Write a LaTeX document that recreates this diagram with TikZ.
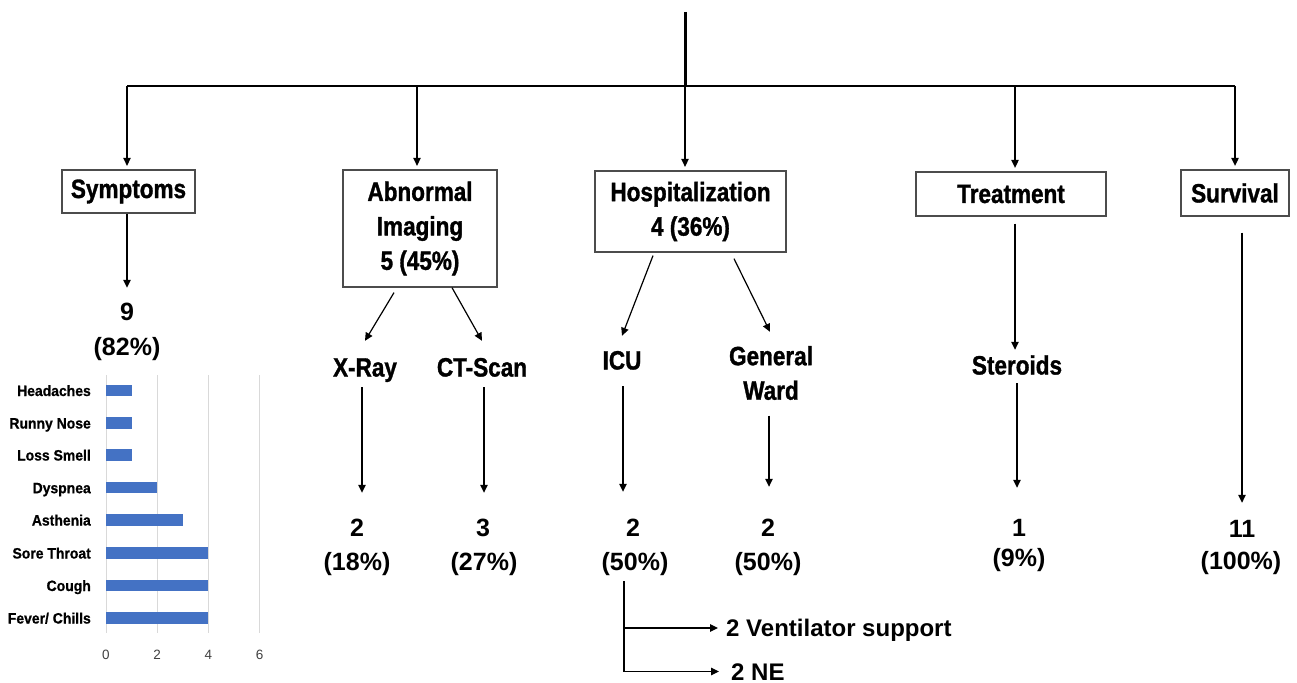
\documentclass[tikz,border=0pt]{standalone}
\usepackage{fontspec}
\setmainfont{Liberation Sans}
\newfontfamily\cnd[FakeStretch=0.85, BoldFeatures={FakeBold=1.2}]{Liberation Sans}
\newfontfamily\cndb[FakeStretch=0.93, BoldFeatures={FakeBold=0.8}]{Liberation Sans}
\usetikzlibrary{arrows.meta}
\definecolor{barblue}{HTML}{4472C4}
\begin{document}
\begin{tikzpicture}[x=1pt,y=-1pt,
  lbl/.style={font=\cnd\bfseries\fontsize{26.5}{34.5}\selectfont, align=center, inner sep=0pt},
  lblt/.style={lbl, text height=19pt, text depth=0pt},
  boxn/.style={lbl, draw=black!70, line width=1.3pt},
  val/.style={font=\bfseries\fontsize{25}{30}\selectfont, inner sep=0pt, text height=18pt, text depth=0pt},
  side/.style={font=\bfseries\fontsize{24}{30}\selectfont, inner sep=0pt, text height=17pt, text depth=0pt, anchor=west},
  arr/.style={-{Triangle[length=8pt,width=7.5pt]}, line width=1.2pt},
  ln/.style={line width=1.2pt},
  clbl/.style={font=\cndb\bfseries\fontsize{15}{15}\selectfont, inner sep=0pt, text height=11pt, text depth=0pt, anchor=east},
  tick/.style={font=\fontsize{13.5}{13.5}\selectfont, text=black!75, inner sep=0pt, text height=10pt, text depth=0pt},
  grid/.style={draw=black!15, line width=1pt},
  bar/.style={fill=barblue}]
\useasboundingbox (0,0) rectangle (1297,682);

% bus
\coordinate (top) at (685,12);
\coordinate (hub) at (685,86);
\coordinate (b1) at (127,86);
\coordinate (b2) at (417,86);
\coordinate (b4) at (1015,86);
\coordinate (b5) at (1235,86);
\draw[line width=3pt] (top) -- (hub);
\draw[line width=2pt] (b1) -- (b5);

% top-level boxes
\node[boxn, minimum width=133pt, minimum height=43pt] (sym) at (128.5,191.5) {Symptoms};
\node[boxn, minimum width=154pt, minimum height=117pt] (ab) at (420,228.5) {Abnormal\\Imaging\\5 (45\%)};
\node[boxn, minimum width=191pt, minimum height=81pt] (hosp) at (690.5,211.5) {Hospitalization\\4 (36\%)};
\node[boxn, minimum width=190pt, minimum height=44pt] (treat) at (1011,194) {Treatment};
\node[boxn, minimum width=108pt, minimum height=46pt] (surv) at (1235,193) {Survival};

\draw[arr, shorten >=3.5pt] (b1) -- (b1 |- sym.north);
\draw[arr, shorten >=3.5pt] (b2) -- (b2 |- ab.north);
\draw[arr, shorten >=3.5pt] (hub) -- (hub |- hosp.north);
\draw[arr, shorten >=3.5pt] (b4) -- (b4 |- treat.north);
\draw[arr, shorten >=3.5pt] (b5) -- (b5 |- surv.north);

% second level labels
\node[lblt] (xray) at (365,367) {X-Ray};
\node[lblt] (ct) at (482,367) {CT-Scan};
\node[lblt] (icu) at (622,360) {ICU};
\node[lbl] (gw) at (771,373) {General\\Ward};
\node[lblt] (ster) at (1017,365) {Steroids};

% values
\node[val] (v9) at (127,311) {9};
\node[val] (p82) at (127,346) {(82\%)};
\node[val] (vx) at (357,527) {2};
\node[val] (px) at (357,561) {(18\%)};
\node[val] (vc) at (483,527) {3};
\node[val] (pc) at (484,561) {(27\%)};
\node[val] (vi) at (633,527) {2};
\node[val] (pi) at (635,561) {(50\%)};
\node[val] (vg) at (768,527) {2};
\node[val] (pg) at (768,561) {(50\%)};
\node[val] (vs) at (1019,527) {1};
\node[val] (ps) at (1019,557) {(9\%)};
\node[val] (vsu) at (1242,528) {11};
\node[val] (psu) at (1241,560) {(100\%)};

% connectors
\draw[arr, shorten >=14pt] (sym.south -| v9) -- (v9.north);
\draw[arr] ([xshift=-26pt,yshift=-5pt]ab.south) -- ([yshift=16.5pt]xray.north);
\draw[arr] ([xshift=32pt]ab.south) -- ([yshift=16.5pt]ct.north);
\draw[arr, shorten <=10.5pt, shorten >=25pt] ([xshift=-3pt]xray.south) -- ([xshift=-3pt]xray.south |- vx.north);
\draw[arr, shorten <=10.5pt, shorten >=25pt] ([xshift=2pt]ct.south) -- ([xshift=2pt]ct.south |- vc.north);
\draw[arr] ([xshift=-37.5pt,yshift=-3pt]hosp.south) -- ([yshift=14.5pt]icu.north);
\draw[arr] ([xshift=43.5pt,yshift=-6pt]hosp.south) -- ([xshift=-1pt,yshift=14pt]gw.north);
\draw[arr, shorten <=16.5pt, shorten >=26pt] ([xshift=1pt]icu.south) -- ([xshift=1pt]icu.south |- vi.north);
\draw[arr, shorten <=15.5pt, shorten >=31pt] ([xshift=-2pt]gw.south) -- ([xshift=-2pt]gw.south |- vg.north);
\draw[arr, shorten <=7pt, shorten >=5.5pt] (treat.south -| b4) -- (b4 |- ster.north);
\draw[arr, shorten <=8.5pt, shorten >=30pt] (ster.south) -- (ster.south |- vs.north);
\draw[arr, shorten <=16pt, shorten >=16pt] (surv.south -| vsu) -- (vsu.north);

% ICU outcomes
\node[side] (vent) at (726,628) {2 Ventilator support};
\node[side] (ne) at (731,671.5) {2 NE};
\coordinate (br) at ([xshift=-11pt,yshift=-11pt]pi.south);
\draw[arr, shorten >=8pt] (br) |- (vent.west);
\draw[arr, shorten >=12pt] (br) |- (ne.west);

% bar chart
\foreach \t in {0,2,4,6} {
  \draw[grid] (106+25.6*\t,375) -- (106+25.6*\t,633);
  \node[tick] (tk\t) at (106+25.6*\t,654) {\t};
}
\fill[bar] (106,384.8) rectangle (131.6,396.2);
\fill[bar] (106,417.3) rectangle (131.6,428.7);
\fill[bar] (106,449.3) rectangle (131.6,460.7);
\fill[bar] (106,482.0) rectangle (157.2,493.4);
\fill[bar] (106,514.3) rectangle (182.8,525.7);
\fill[bar] (106,547.3) rectangle (208.4,558.7);
\fill[bar] (106,579.8) rectangle (208.4,591.2);
\fill[bar] (106,612.3) rectangle (208.4,623.7);
\node[clbl] (c1) at (91,390.5) {Headaches};
\node[clbl] (c2) at (91,423) {Runny Nose};
\node[clbl] (c3) at (91,455) {Loss Smell};
\node[clbl] (c4) at (91,487.7) {Dyspnea};
\node[clbl] (c5) at (91,520) {Asthenia};
\node[clbl] (c6) at (91,553) {Sore Throat};
\node[clbl] (c7) at (91,585.5) {Cough};
\node[clbl] (c8) at (91,618) {Fever/ Chills};
\end{tikzpicture}
\end{document}
